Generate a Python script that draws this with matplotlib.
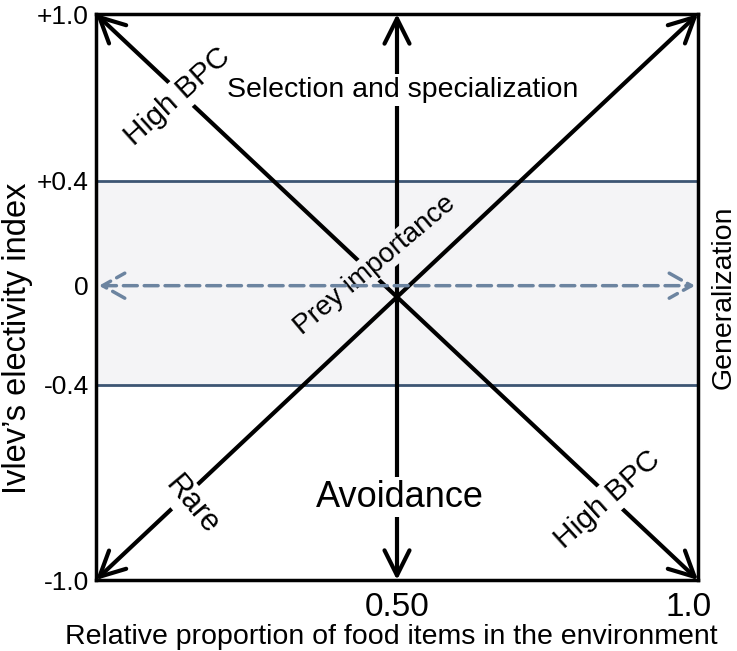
import matplotlib.pyplot as plt

plt.rcParams["font.family"] = ["Liberation Sans", "DejaVu Sans"]

# schematic levels on the electivity axis, as drawn
y_tick_pos = [1.0, 0.41, 0.04, -0.31, -1.0]
y_tick_labels = ["+1.0", "+0.4", "0", "-0.4", "-1.0"]
x_tick_pos = [0.5, 0.985]
x_tick_labels = ["0.50", "1.0"]
band_edges = [-0.31, 0.41]
neutral_level = 0.04

band_face = "#f4f4f6"
band_line = "#3d5573"
dash_color = "#6c84a0"

W, H = 737, 651
fig = plt.figure(figsize=(W / 100, H / 100), dpi=100)
ax = fig.add_axes([96 / W, 1 - 580 / H, 602 / W, 566 / H])
ax.set_xlim(0, 1)
ax.set_ylim(-1, 1)

ax.axhspan(band_edges[0], band_edges[1], color=band_face, zorder=0)
for lev in band_edges:
    ax.axhline(lev, color=band_line, lw=2, zorder=1)

arrow_kw = dict(arrowstyle="<->,head_length=0.9,head_width=0.45", color="black", lw=3,
                shrinkA=0, shrinkB=0, mutation_scale=20)
# two diagonals and the vertical
ax.annotate("", xy=(1, -1), xytext=(0, 1), arrowprops=arrow_kw, zorder=2)
ax.annotate("", xy=(1, 1), xytext=(0, -1), arrowprops=arrow_kw, zorder=2)
ax.annotate("", xy=(0.5, -1), xytext=(0.5, 1), arrowprops=arrow_kw, zorder=2)

white_box = dict(facecolor="white", edgecolor="none", pad=2)
ax.text(0.136, 0.707, "High BPC", fontsize=21.5, rotation=42, ha="center", va="center",
        bbox=white_box, zorder=3)
ax.text(0.85, -0.717, "High BPC", fontsize=21.5, rotation=42, ha="center", va="center",
        bbox=white_box, zorder=3)
ax.text(0.159, -0.735, "Rare", fontsize=22, rotation=-50, ha="center", va="center",
        bbox=white_box, zorder=3)
ax.text(0.51, 0.731, "Selection and specialization", fontsize=20.5, ha="center", va="center",
        bbox=white_box, zorder=3)
ax.text(0.505, -0.707, "Avoidance", fontsize=26, ha="center", va="center",
        bbox=white_box, zorder=3)
ax.text(0.463, 0.113, "Prey importance", fontsize=20, rotation=40, ha="center", va="center",
        bbox=dict(facecolor=band_face, edgecolor="none", pad=1), zorder=3)

ax.annotate("", xy=(0.995, neutral_level), xytext=(0.005, neutral_level),
            arrowprops=dict(arrowstyle="<->,head_length=0.8,head_width=0.45", color=dash_color,
                            lw=2.5, linestyle=(0, (4, 2)), shrinkA=0, shrinkB=0,
                            mutation_scale=20),
            zorder=4)

ax.set_yticks(y_tick_pos)
ax.set_yticklabels(y_tick_labels, fontsize=19)
ax.set_xticks(x_tick_pos)
ax.set_xticklabels(x_tick_labels, fontsize=24)
ax.tick_params(axis="both", length=0)
ax.tick_params(axis="y", pad=5)
ax.tick_params(axis="x", pad=9)
for sp in ax.spines.values():
    sp.set_linewidth(2.5)
    sp.set_zorder(5)

fig.text(391 / W, 1 - 637 / H, "Relative proportion of food items in the environment",
         fontsize=20.5, ha="center", va="center")
fig.text(18 / W, 1 - 338 / H, "Ivlev\u2019s electivity index", fontsize=23.5, rotation=90,
         ha="center", va="center")
fig.text(711 / W, 1 - 297 / H, "Generalization", fontsize=20.5, rotation=90,
         ha="left", va="center")

fig.savefig("out.png", dpi=100)
